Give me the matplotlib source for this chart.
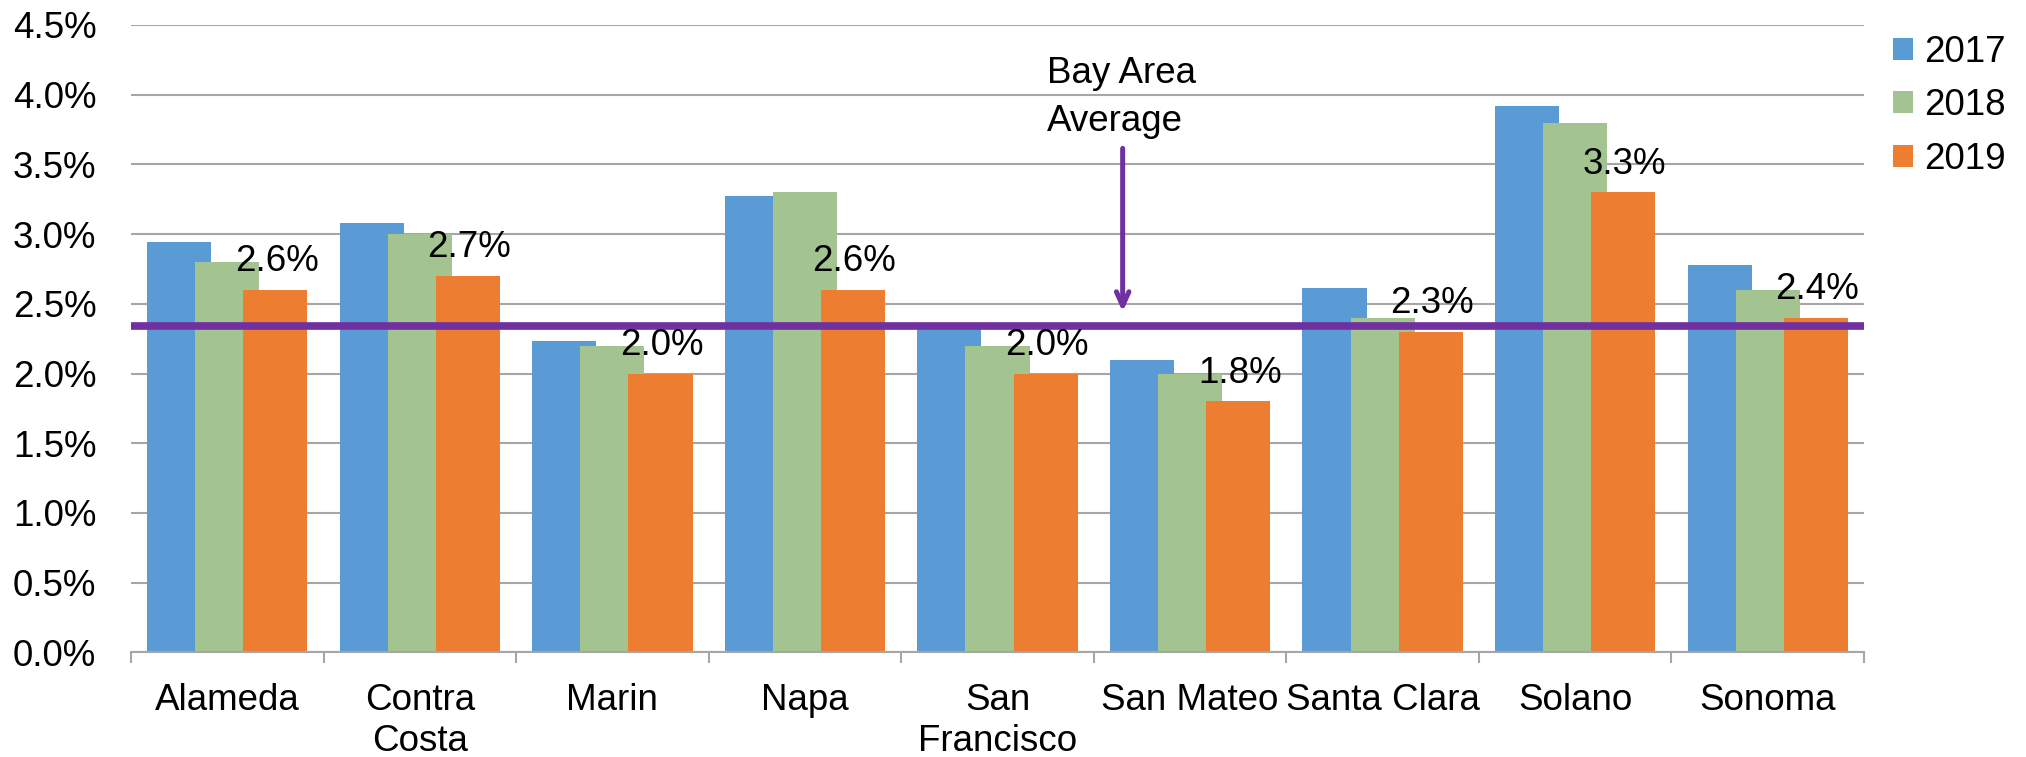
import numpy as np
import matplotlib
matplotlib.use('Agg')
import matplotlib.pyplot as plt
from matplotlib.ticker import FixedLocator, FuncFormatter

plt.rcParams['font.family'] = ['Liberation Sans', 'DejaVu Sans']

# data (percent)
counties = ['Alameda', 'Contra\nCosta', 'Marin', 'Napa', 'San\nFrancisco',
            'San Mateo', 'Santa Clara', 'Solano', 'Sonoma']
years = ['2017', '2018', '2019']
v2017 = [2.94, 3.08, 2.23, 3.27, 2.33, 2.10, 2.61, 3.92, 2.78]
v2018 = [2.80, 3.00, 2.20, 3.30, 2.20, 2.00, 2.40, 3.80, 2.60]
v2019 = [2.60, 2.70, 2.00, 2.60, 2.00, 1.80, 2.30, 3.30, 2.40]
bay_area_avg = 2.34

colors = ['#5b9bd5', '#a3c490', '#ed7d31']
purple = '#7030a0'
grid_gray = '#a6a6a6'
fs = 26.5

fig = plt.figure(figsize=(20.26, 7.57), dpi=100)
ax = fig.add_axes([131 / 2026, 1 - 652.3 / 757, (1864 - 131) / 2026, (652.3 - 25) / 757])

x = np.arange(len(counties))
width = 0.333
step = 0.25
for i, (vals, yr) in enumerate(zip([v2017, v2018, v2019], years)):
    ax.bar(x + (i - 1) * step, vals, width, color=colors[i], label=yr, zorder=2)

# data labels on 2019 bars
for xi, v in zip(x, v2019):
    ax.annotate('{:.1f}%'.format(v), (xi + step, v), xytext=(1, 13.5),
                textcoords='offset points', ha='center', va='baseline',
                fontsize=fs, zorder=5)

# bay area average line + arrow
ax.axhline(bay_area_avg, color=purple, lw=5.5, zorder=4)
ax.annotate('', xy=(4.65, 2.443), xytext=(4.65, 3.615),
            arrowprops=dict(arrowstyle='->,head_length=1.0,head_width=0.45',
                            color=purple, lw=3.6, shrinkA=0, shrinkB=0), zorder=4)
ax.text(4.256, 4.28, 'Bay Area\nAverage', ha='left', va='top', fontsize=fs,
        linespacing=1.48)

ax.set_xlim(-0.5, len(counties) - 0.5)
ax.set_ylim(0, 4.5)
ax.set_yticks(np.arange(0, 4.51, 0.5))
ax.yaxis.set_major_formatter(FuncFormatter(lambda v, p: '{:.1f}%'.format(v)))
ax.set_xticks(x)
ax.set_xticklabels(counties, fontsize=fs, linespacing=1.24)
ax.xaxis.set_minor_locator(FixedLocator(np.arange(-0.5, len(counties), 1)))
ax.tick_params(axis='x', which='major', length=0, pad=22)
ax.tick_params(axis='x', which='minor', length=8, width=1.5, color=grid_gray)
ax.tick_params(axis='y', length=0, pad=25, labelsize=fs)

ax.grid(axis='y', color=grid_gray, lw=1.5)
ax.set_axisbelow(True)
for s in ['top', 'left', 'right']:
    ax.spines[s].set_visible(False)
ax.spines['bottom'].set_color(grid_gray)
ax.spines['bottom'].set_linewidth(1.5)

fig.legend(loc='upper left', bbox_to_anchor=(1893 / 2026, 1 - 35 / 757),
           frameon=False, fontsize=fs, handlelength=0.55, handleheight=0.55,
           handletextpad=0.3, labelspacing=0.5, borderpad=0, borderaxespad=0)

fig.savefig('out.png', dpi=100)
